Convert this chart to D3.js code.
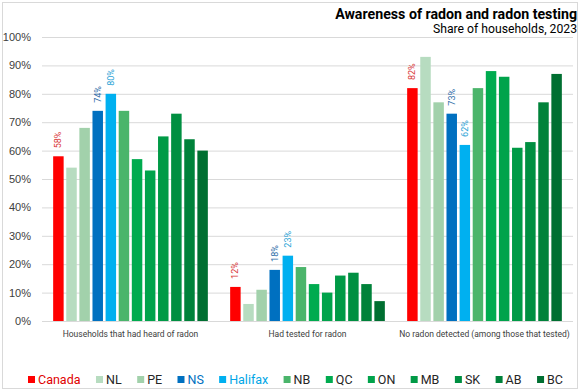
<!DOCTYPE html>
<html>
<head>
<meta charset="utf-8">
<script src="https://cdn.jsdelivr.net/npm/d3@7"></script>
<style>
  body { margin: 0; background: #fff; }
  svg { font-family: Roboto, "Noto Sans", sans-serif; }
</style>
</head>
<body>
<div id="chart"></div>
<script>
// chart data
const categories = ['Households that had heard of radon', 'Had tested for radon', 'No radon detected (among those that tested)'];
const regions = ['Canada', 'NL', 'PE', 'NS', 'Halifax', 'NB', 'QC', 'ON', 'MB', 'SK', 'AB', 'BC'];
const heardValues = [58, 54, 68, 74, 80, 74, 57, 53, 65, 73, 64, 60];
const testedValues = [12, 6, 11, 18, 23, 19, 13, 10, 16, 17, 13, 7];
const noRadonValues = [82, 93, 77, 73, 62, 82, 88, 86, 61, 63, 77, 87];
const yTicks = [0, 10, 20, 30, 40, 50, 60, 70, 80, 90, 100];
const labelled = ['Canada', 'NS', 'Halifax'];

const width = 580;
const height = 390;

const barColors = ['#ff0000', '#b7dcc0', '#a2d1ab', '#0070c0', '#00b0f0', '#4bb56b',
  '#00ab4f', '#00a34b', '#009a46', '#008f41', '#00823a', '#006f31'];
const labelColors = { Canada: '#d9393a', NS: '#2e6da8', Halifax: '#2aa3d6' };
const legendTextColors = { Canada: '#e00000', NS: '#0070c0', Halifax: '#00a6e6' };

const valuesByCategory = [heardValues, testedValues, noRadonValues];
const data = categories.map((c, ci) => ({
  category: c,
  bars: regions.map((r, ri) => ({ region: r, value: valuesByCategory[ci][ri], i: ri }))
}));

const svg = d3.select('#chart')
  .append('svg')
  .attr('width', width)
  .attr('height', height);

// outer frame
svg.append('rect')
  .attr('x', 2.5).attr('y', 2.5)
  .attr('width', width - 5).attr('height', height - 4)
  .attr('fill', 'none')
  .attr('stroke', '#d9d9d9');

const y = d3.scaleLinear().domain([0, 100]).range([321, 37]);
const x0 = d3.scaleBand().domain(categories).range([42, 573])
  .paddingInner(0.126).paddingOuter(0.063);
const x1 = d3.scaleBand().domain(regions).range([0, x0.bandwidth()]).paddingInner(0.2);

// gridlines + y labels
const yAxis = d3.axisLeft(y)
  .tickValues(yTicks)
  .tickSize(-(573 - 42))
  .tickPadding(11)
  .tickFormat(d => d + '%');

const gy = svg.append('g')
  .attr('transform', 'translate(42,0)')
  .call(yAxis);
gy.select('.domain').remove();
gy.selectAll('.tick line').attr('stroke', '#d9d9d9');
gy.selectAll('.tick text')
  .attr('fill', '#404040')
  .style('font-size', '11px');

// bars
const groups = svg.selectAll('g.group')
  .data(data)
  .enter()
  .append('g')
  .attr('class', 'group')
  .attr('transform', d => `translate(${x0(d.category)},0)`);

groups.selectAll('rect')
  .data(d => d.bars)
  .enter()
  .append('rect')
  .attr('x', d => x1(d.region))
  .attr('y', d => y(d.value))
  .attr('width', x1.bandwidth())
  .attr('height', d => y(0) - y(d.value))
  .attr('fill', d => barColors[d.i]);

// rotated value labels for Canada, NS, Halifax
groups.selectAll('text.value')
  .data(d => d.bars.filter(b => labelled.includes(b.region)))
  .enter()
  .append('text')
  .attr('class', 'value')
  .attr('transform', d => `translate(${x1(d.region) + x1.bandwidth() / 2 + 3},${y(d.value) - 8}) rotate(-90)`)
  .attr('fill', d => labelColors[d.region])
  .style('font-size', '9px')
  .text(d => d.value + '%');

// category labels
svg.selectAll('text.cat')
  .data(categories)
  .enter()
  .append('text')
  .attr('class', 'cat')
  .attr('x', d => x0(d) + x0.bandwidth() / 2)
  .attr('y', 337)
  .attr('text-anchor', 'middle')
  .attr('fill', '#404040')
  .style('font-size', '8.5px')
  .text(d => d);

// title
svg.append('text')
  .attr('x', 577).attr('y', 19)
  .attr('text-anchor', 'end')
  .attr('fill', '#000')
  .style('font-size', '14.2px')
  .style('font-weight', 'bold')
  .text('Awareness of radon and radon testing');

svg.append('text')
  .attr('x', 577).attr('y', 33)
  .attr('text-anchor', 'end')
  .attr('fill', '#000')
  .style('font-size', '12.2px')
  .text('Share of households, 2023');

// legend
const legend = svg.append('g').attr('class', 'legend');
const items = legend.selectAll('g.item')
  .data(regions)
  .enter()
  .append('g')
  .attr('class', 'item');

items.append('rect')
  .attr('y', 376)
  .attr('width', 7).attr('height', 7)
  .attr('fill', (d, i) => barColors[i]);

items.append('text')
  .attr('x', 10)
  .attr('y', 384)
  .attr('fill', d => legendTextColors[d] || '#262626')
  .style('font-size', '12.5px')
  .text(d => d);

// spread legend items evenly between 28 and 563
const itemWidths = [];
items.each(function () { itemWidths.push(this.getBBox().width); });
const legendStart = 28, legendEnd = 563;
const gap = (legendEnd - legendStart - d3.sum(itemWidths)) / (regions.length - 1);
let cursor = legendStart;
items.attr('transform', (d, i) => {
  const t = `translate(${cursor},0)`;
  cursor += itemWidths[i] + gap;
  return t;
});
</script>
</body>
</html>
